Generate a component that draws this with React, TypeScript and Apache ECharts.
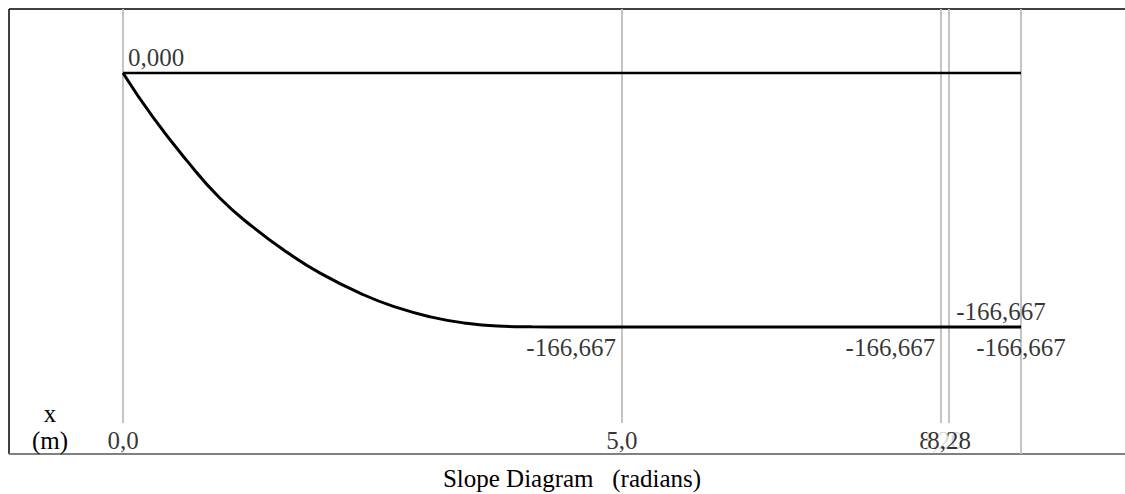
import React, { useEffect, useRef } from "react";
import * as echarts from "echarts";

// Slope curve (x in m, slope in radians)
const xs = [0, 0.3, 0.64, 0.97, 1.31, 1.64, 1.98, 2.41, 2.75, 3.08, 3.42, 3.75, 4.1, 4.5, 5, 8.2, 8.28, 9];
const slope = [0, -29, -57.5, -82, -101.5, -117.5, -131.5, -145.5, -154, -160, -164, -166, -166.5, -166.65, -166.667, -166.667, -166.667, -166.667];

// Zero reference line
const baseX = [0, 9];
const baseY = [0, 0];

// Gray station lines
const stations = [0, 5, 8.2, 8.28];
const lastStation = 9;
const tickValues = [0, 5, 8.2, 8.28];
const tickLabels = ["0,0", "5,0", "8,20", "8,28"];

// Value annotations: [x, y, placement]
const annX = [0, 5, 8.2, 9, 9];
const annY = [0, -166.667, -166.667, -166.667, -166.667];
const annPlace = ["aboveRight", "belowLeft", "belowLeft", "aboveLeftish", "below"];

const Y_MIN = -250;
const Y_MAX = 42;
const STATION_BOTTOM = -229.7;

const FONT = "'Liberation Serif', 'Times New Roman', serif";

function fmt(v: number): string {
  return v.toFixed(3).replace(".", ",");
}

export default function App() {
  const ref = useRef<HTMLDivElement>(null);
  useEffect(() => {
    if (!ref.current) return;
    const chart = echarts.init(ref.current, null, { renderer: "svg" });

    const placement: Record<string, any> = {
      aboveRight: { position: [5, -16], align: "left", verticalAlign: "middle" },
      belowLeft: { position: [-6, 20], align: "right", verticalAlign: "middle" },
      aboveLeftish: { position: [-20, -16], align: "center", verticalAlign: "middle" },
      below: { position: [0, 20], align: "center", verticalAlign: "middle" },
    };

    const annData = annX.map((x, i) => ({
      value: [x, annY[i]],
      label: {
        show: true,
        formatter: fmt(annY[i]),
        ...placement[annPlace[i]],
      },
    }));

    const tickData = tickValues.map((v, i) => ({
      value: [v, Y_MIN],
      label: { formatter: tickLabels[i] },
    }));

    const markData: any[] = stations.map((s) => [
      { coord: [s, Y_MAX] },
      { coord: [s, STATION_BOTTOM] },
    ]);
    markData.push([{ coord: [lastStation, Y_MAX] }, { coord: [lastStation, Y_MIN] }]);

    chart.setOption({
      animation: false,
      grid: { left: 123, right: 104, top: 9, bottom: 40 },
      xAxis: {
        type: "value",
        min: 0,
        max: 9,
        axisLine: { show: false },
        axisTick: { show: false },
        splitLine: { show: false },
        axisLabel: { show: false },
      },
      yAxis: {
        type: "value",
        min: Y_MIN,
        max: Y_MAX,
        show: false,
      },
      series: [
        {
          type: "line",
          data: baseX.map((x, i) => [x, baseY[i]]),
          showSymbol: false,
          lineStyle: { color: "#000", width: 2.5 },
          z: 3,
          markLine: {
            silent: true,
            symbol: "none",
            label: { show: false },
            lineStyle: { color: "#c4c4c4", width: 2, type: "solid" },
            data: markData,
            z: 1,
          },
        },
        {
          type: "line",
          data: xs.map((x, i) => [x, slope[i]]),
          showSymbol: false,
          smooth: true,
          lineStyle: { color: "#000", width: 3 },
          z: 4,
        },
        {
          type: "scatter",
          symbolSize: 0,
          data: annData,
          label: {
            color: "#000",
            fontFamily: FONT,
            fontSize: 25,
          },
          z: 5,
        },
        {
          type: "scatter",
          symbolSize: 0,
          data: tickData,
          clip: false,
          label: {
            show: true,
            position: [0, -14],
            align: "center",
            verticalAlign: "middle",
            color: "#000",
            fontFamily: FONT,
            fontSize: 25,
            backgroundColor: "#fff",
          },
          labelLayout: { hideOverlap: false },
          z: 5,
        },
      ],
      graphic: [
        { type: "line", shape: { x1: 9, y1: 9, x2: 1125, y2: 9 }, style: { stroke: "#000", lineWidth: 1.5 } },
        { type: "line", shape: { x1: 9, y1: 9, x2: 9, y2: 454 }, style: { stroke: "#000", lineWidth: 1.5 } },
        { type: "line", shape: { x1: 9, y1: 454, x2: 1125, y2: 454 }, style: { stroke: "#808080", lineWidth: 2 } },
        { type: "text", x: 50, y: 413, style: { text: "x", fontFamily: FONT, fontSize: 25, fill: "#000", align: "center", verticalAlign: "middle" } },
        { type: "text", x: 50, y: 440, style: { text: "(m)", fontFamily: FONT, fontSize: 25, fill: "#000", align: "center", verticalAlign: "middle" } },
        { type: "text", x: 572, y: 478, style: { text: "Slope Diagram   (radians)", fontFamily: FONT, fontSize: 25, fill: "#000", align: "center", verticalAlign: "middle" } },
      ],
    });
    return () => chart.dispose();
  }, []);
  return (
    <div
      ref={ref}
      style={{ position: "absolute", left: 0, top: 0, width: 1125, height: 494, background: "#fff" }}
    />
  );
}
